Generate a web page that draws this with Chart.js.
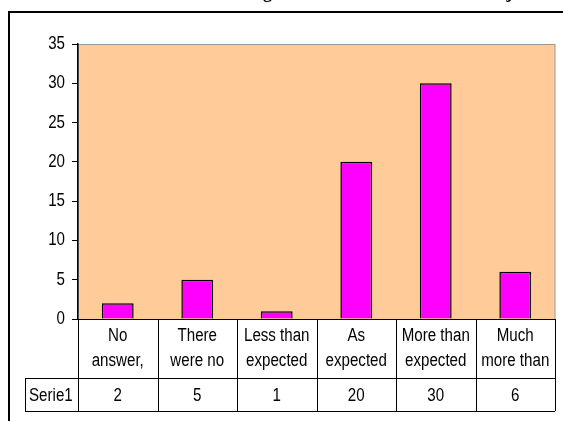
<!DOCTYPE html>
<html>
<head>
<meta charset="utf-8">
<script src="https://cdn.jsdelivr.net/npm/chart.js@4/dist/chart.umd.min.js"></script>
<style>
  html, body { margin: 0; padding: 0; background: #fff; }
  #wrap { width: 563px; height: 421px; position: relative; }
</style>
</head>
<body>
<div id="wrap"><canvas id="chart" width="563" height="421"></canvas></div>
<script>
// data
const categories = [
  ["No", "answer,"],
  ["There", "were no"],
  ["Less than", "expected"],
  ["As", "expected"],
  ["More than", "expected"],
  ["Much", "more than"]
];
const seriesName = "Serie1";
const values = [2, 5, 1, 20, 30, 6];
const yTicks = [0, 5, 10, 15, 20, 25, 30, 35];
const titleText = "Meeting the aims of the last course subject";

const FONT = "18px 'Liberation Sans', Arial, sans-serif";
const SQUEEZE = 0.84; // Excel-style narrow text

// draw text squeezed horizontally
function narrowText(ctx, text, x, y, align) {
  ctx.save();
  ctx.translate(x, y);
  ctx.scale(SQUEEZE, 1);
  ctx.textAlign = align;
  ctx.fillText(text, 0, 0);
  ctx.restore();
}

// frame, plot background and title (drawn before datasets)
const backdrop = {
  id: "backdrop",
  beforeDraw(chart) {
    const ctx = chart.ctx;
    const a = chart.chartArea;
    ctx.save();
    ctx.fillStyle = "#fff";
    ctx.fillRect(0, 0, chart.width, chart.height);
    // title, mostly cut off above the picture
    ctx.fillStyle = "#000";
    ctx.font = "bold 18px 'Liberation Serif', 'Times New Roman', serif";
    ctx.textBaseline = "alphabetic";
    ctx.textAlign = "left";
    const pre = ctx.measureText("Meetin").width;
    ctx.fillText(titleText, 263 - pre, -2);
    // outer box
    ctx.strokeStyle = "#000";
    ctx.lineWidth = 2;
    ctx.strokeRect(9, 12, 700, 600);
    // plot area
    ctx.fillStyle = "#FFCC99";
    ctx.fillRect(a.left, a.top, a.right - a.left, a.bottom - a.top);
    ctx.strokeStyle = "#999";
    ctx.lineWidth = 1;
    ctx.strokeRect(a.left + 0.5, a.top + 0.5, a.right - a.left - 0.5, a.bottom - a.top);
    ctx.restore();
  }
};

// y tick labels and data table under the plot
const dataTable = {
  id: "dataTable",
  afterDraw(chart) {
    const ctx = chart.ctx;
    const a = chart.chartArea;
    const xs = chart.scales.x;
    const ys = chart.scales.y;
    const colW = (a.right - a.left) / categories.length;
    const top = a.bottom;
    const mid = top + 59;
    const bot = top + 92;
    const headLeft = 25;
    ctx.save();
    ctx.fillStyle = "#000";
    ctx.font = FONT;
    ctx.textBaseline = "middle";
    ys.ticks.forEach(t => {
      narrowText(ctx, String(t.value), a.left - 13, ys.getPixelForValue(t.value), "right");
    });

    ctx.strokeStyle = "#000";
    ctx.lineWidth = 1;
    ctx.beginPath();
    ctx.moveTo(a.left, top + 0.5); ctx.lineTo(a.right, top + 0.5);
    ctx.moveTo(headLeft, mid + 0.5); ctx.lineTo(a.right, mid + 0.5);
    ctx.moveTo(headLeft, bot + 0.5); ctx.lineTo(a.right, bot + 0.5);
    ctx.moveTo(headLeft + 0.5, mid); ctx.lineTo(headLeft + 0.5, bot);
    for (let i = 0; i <= categories.length; i++) {
      const x = Math.round(a.left + i * colW) + 0.5;
      ctx.moveTo(x, top); ctx.lineTo(x, bot);
    }
    ctx.stroke();

    categories.forEach((lines, i) => {
      const cx = xs.getPixelForValue(i);
      narrowText(ctx, lines[0], cx, top + 17, "center");
      narrowText(ctx, lines[1], cx, top + 42, "center");
      narrowText(ctx, String(values[i]), cx, mid + 18, "center");
    });
    narrowText(ctx, seriesName, headLeft + 4, mid + 18, "left");
    ctx.restore();
  }
};

new Chart(document.getElementById("chart"), {
  type: "bar",
  data: {
    labels: categories.map(c => c.join(" ")),
    datasets: [{
      label: seriesName,
      data: values,
      backgroundColor: "#FF00FF",
      borderColor: "#000",
      borderWidth: 1.5,
      barPercentage: 0.4,
      categoryPercentage: 1
    }]
  },
  options: {
    responsive: false,
    animation: false,
    layout: { padding: { left: 0, right: 8, top: 44, bottom: 102 } },
    plugins: {
      legend: { display: false },
      tooltip: { enabled: false }
    },
    scales: {
      x: {
        display: false
      },
      y: {
        min: 0,
        max: 35,
        afterFit(scale) { scale.width = 78; },
        afterBuildTicks(scale) { scale.ticks = yTicks.map(v => ({ value: v })); },
        border: { display: true, color: "#000", width: 1.5 },
        grid: {
          drawOnChartArea: false,
          drawTicks: true,
          tickLength: 6,
          color: "#000",
          lineWidth: 1
        },
        ticks: {
          color: "rgba(0,0,0,0)",
          padding: 7,
          font: { family: "Liberation Sans", size: 18 }
        }
      }
    }
  },
  plugins: [backdrop, dataTable]
});
</script>
</body>
</html>
